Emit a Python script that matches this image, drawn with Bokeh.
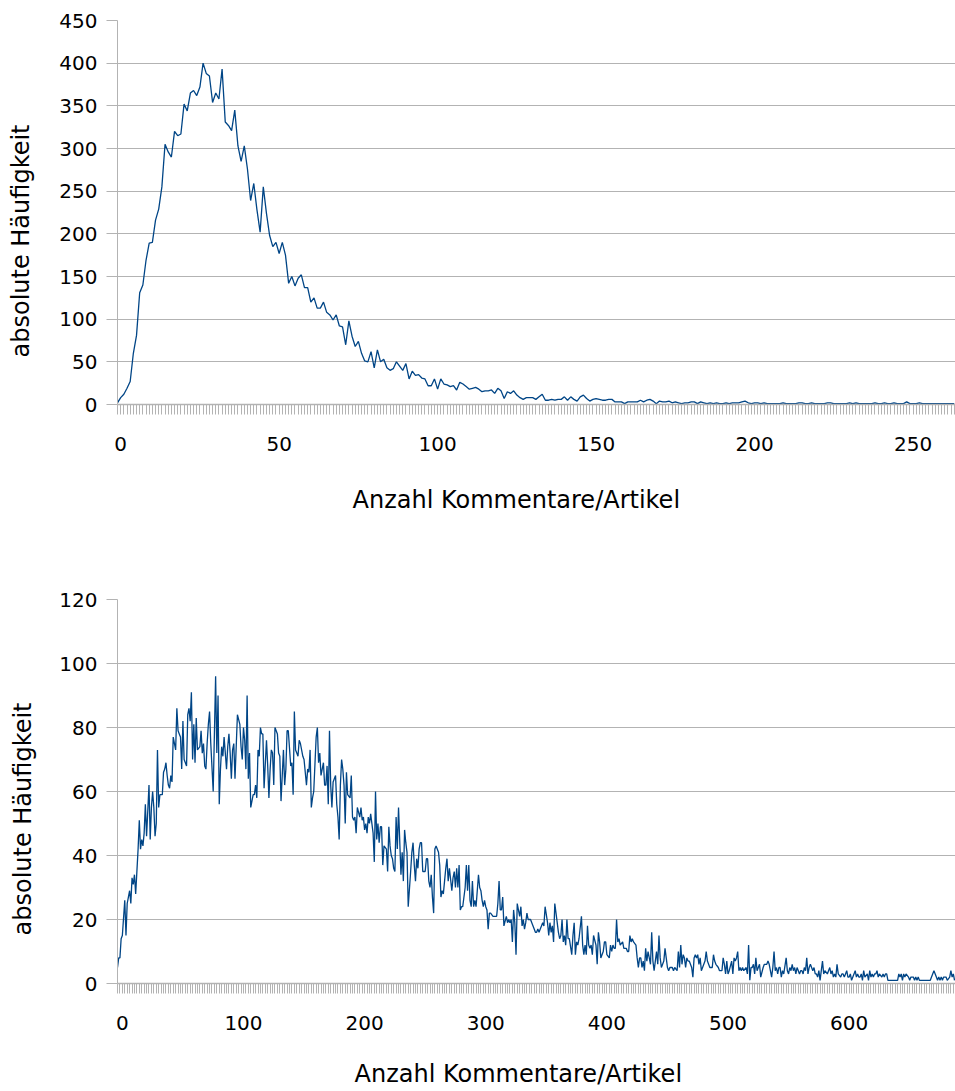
from bokeh.plotting import figure
from bokeh.models import FixedTicker, Title
from bokeh.layouts import column
from bokeh.embed import file_html
from bokeh.resources import INLINE

# ---------------- data ----------------
# top chart: frequency per number of comments (0 .. 264)
top_freq = [
    2, 8, 12, 19, 27, 60, 81, 131, 140, 169, 189, 190, 216, 229, 255, 305, 296, 290, 320, 315,
    317, 352, 344, 365, 368, 362, 372, 400, 388, 385, 354, 365, 358, 393, 331, 327, 321, 345, 303, 285,
    303, 276, 239, 259, 228, 202, 255, 224, 198, 185, 190, 177, 190, 175, 142, 150, 139, 148, 152, 137,
    137, 120, 125, 113, 113, 120, 108, 105, 99, 105, 92, 91, 70, 98, 80, 68, 74, 60, 51, 50,
    62, 43, 64, 50, 53, 43, 40, 42, 50, 45, 40, 48, 30, 39, 34, 35, 31, 30, 22, 22,
    30, 18, 30, 24, 23, 21, 22, 17, 26, 24, 21, 18, 19, 20, 18, 15, 16, 16, 17, 13,
    19, 16, 7, 15, 13, 16, 11, 8, 6, 8, 8, 8, 6, 9, 12, 5, 5, 6, 5, 6,
    6, 9, 5, 9, 6, 4, 9, 11, 7, 4, 6, 7, 6, 5, 5, 6, 6, 3, 3, 3,
    1, 3, 3, 3, 3, 5, 3, 5, 6, 4, 1, 4, 3, 3, 4, 2, 3, 2, 1, 2,
    2, 3, 3, 1, 3, 2, 1, 2, 1, 2, 1, 1, 2, 1, 2, 2, 2, 3, 4, 2,
    1, 2, 2, 1, 2, 1, 1, 1, 1, 1, 2, 1, 1, 1, 1, 2, 2, 1, 1, 2,
    1, 1, 1, 1, 2, 2, 1, 1, 1, 1, 1, 2, 1, 2, 1, 1, 1, 1, 1, 2,
    1, 1, 2, 1, 1, 2, 1, 1, 1, 3, 1, 1, 1, 2, 1, 1, 1, 1, 1, 1,
    1, 1, 1, 1, 1,
]
top_counts = list(range(len(top_freq)))

# bottom chart: number of comments and frequency
bottom_counts = [
    0, 1, 2, 3, 4, 6, 7, 8, 9, 10, 11, 12, 13, 14, 15, 17, 18, 19, 20, 21,
    22, 23, 24, 26, 27, 28, 29, 30, 31, 32, 33, 34, 35, 37, 38, 39, 40, 41, 42, 43,
    44, 45, 46, 48, 49, 50, 51, 52, 53, 54, 55, 57, 58, 59, 60, 61, 62, 63, 64, 65,
    66, 68, 69, 70, 71, 72, 73, 74, 75, 76, 77, 79, 80, 81, 82, 83, 84, 85, 86, 87,
    88, 90, 91, 92, 93, 94, 95, 96, 97, 98, 99, 101, 102, 103, 104, 105, 106, 107, 108, 109,
    110, 112, 113, 114, 115, 116, 117, 118, 119, 120, 121, 123, 124, 125, 126, 127, 128, 129, 130, 132,
    133, 134, 135, 136, 137, 138, 139, 140, 141, 143, 144, 145, 146, 147, 148, 149, 150, 151, 153, 154,
    155, 156, 157, 158, 159, 160, 161, 162, 164, 165, 166, 167, 168,
    170, 171, 172, 173, 174, 175, 176, 177, 178, 180, 181, 182, 183, 184, 185, 186, 187, 188, 189, 190,
    192, 193, 194, 195, 196, 197, 198, 200, 201, 202, 203, 204, 205, 206, 207, 208, 209, 211, 212, 213,
    214, 215, 216, 217, 218, 219, 220, 222, 223, 224, 225, 226, 227, 228, 229, 230, 231, 232, 234, 235,
    236, 237, 238, 239, 240, 242, 243, 244, 245, 246, 247, 248, 249, 250, 251, 252, 254, 255, 256, 257,
    258, 259, 260, 261, 262, 263, 265, 266, 267, 268, 269, 270, 271, 272, 273, 274, 276, 277, 278, 279,
    280, 281, 282, 283, 284, 285, 287, 288, 289, 290, 291, 292, 293, 294, 295, 296, 298, 299, 300, 301,
    302, 303, 304, 305, 306, 307, 308, 310, 311, 312, 313, 314, 315, 316, 317, 318, 319, 321, 322, 323,
    324, 325, 326, 327, 328, 329, 330, 332, 333, 334, 335, 336, 337, 338, 339, 340, 341, 342, 344, 345,
    346, 347, 348, 349, 350, 351, 352, 353, 355, 356, 357, 358,
    359, 360, 361, 363, 364, 365, 366, 367, 368, 369, 370, 371, 372, 373, 375, 376, 377, 378, 379, 380,
    381, 383, 384, 385, 386, 387, 388, 389, 390, 391, 392, 393, 395, 396, 397, 398, 399, 400, 401, 402,
    403, 404, 406, 407, 408, 409, 410, 411, 412, 413, 414, 415, 417, 418, 419, 420, 421, 422, 423, 424,
    425, 426, 428, 429, 430, 431, 432, 433, 434, 435, 436, 437, 438, 440, 441, 442, 443, 444, 445, 446,
    447, 448, 449, 451, 452, 453, 454, 455, 456, 457, 458, 459, 460, 462, 463, 464, 465, 466, 467, 468,
    469, 470, 471, 472, 474, 475, 476, 477, 478, 479, 480, 481, 482, 483, 485, 486, 487, 488, 489, 490,
    491, 492, 493, 494, 496, 497, 498, 499, 500, 501, 502, 503, 504, 505, 507, 508, 509, 510, 511, 512,
    513, 514, 515, 516, 517, 519, 520, 521, 522, 523, 524, 525, 526, 527, 528, 530, 531,
    533, 534, 535, 536, 537, 538, 540, 541, 542, 543, 544, 545, 546, 547, 548, 549, 550, 552, 553, 554,
    555, 556, 557, 558, 559, 560, 561, 563, 564, 565, 566, 567, 568, 569, 570, 571, 572, 574, 575, 576,
    577, 578, 579, 580, 581, 582, 583, 584, 586, 587, 588, 589, 590, 591, 592, 593, 594, 595, 597, 598,
    599, 600, 601, 602, 603, 604, 605, 606, 608, 609, 610, 611, 612, 613, 614, 615, 616, 617, 619, 620,
    621, 622, 623, 624, 625, 626, 627, 628, 629, 631, 632, 633, 634, 635, 636, 637, 638, 639, 640, 641,
    642, 643, 644, 645, 646, 647, 648, 649, 650, 651, 653, 654, 655, 656, 657, 658, 659, 660, 661, 662,
    663, 664, 665, 666, 667, 668, 669, 670, 671, 672, 674, 676, 677, 678, 679, 680, 681, 682, 683, 684,
    685, 687, 688, 689, 690, 691,
]
bottom_freq = [
    5, 8, 8, 14, 15, 26, 15, 25, 27, 29, 25, 33, 31, 34, 28, 42, 51, 42, 45, 43,
    47, 56, 46, 62, 45, 55, 60, 55, 46, 50, 73, 55, 59, 59, 66, 67, 69, 65, 62, 61,
    65, 63, 77, 73, 86, 79, 78, 77, 67, 82, 70, 68, 84, 86, 82, 91, 70, 81, 69, 83,
    73, 74, 79, 72, 75, 68, 67, 75, 81, 85, 75, 60, 78, 96, 72, 90, 56, 67, 74, 71,
    77, 67, 74, 78, 72, 64, 73, 75, 64, 74, 84, 81, 74, 70, 80, 76, 67, 90, 64, 72,
    55, 59, 59, 62, 58, 73, 71, 80, 78, 78, 61, 76, 68, 58, 67, 73, 72, 62, 80, 78,
    72, 71, 57, 65, 73, 62, 67, 79, 79, 68, 69, 59, 85, 73, 72, 71, 76, 75, 71, 70,
    66, 62, 67, 66, 73, 55, 58, 60, 77, 80, 69, 72, 65,
    69, 62, 62, 68, 56, 79, 62, 55, 63, 65, 56, 52, 45, 62, 70, 67, 62, 50, 66, 59,
    58, 65, 52, 51, 52, 47, 55, 52, 55, 51, 52, 48, 50, 47, 52, 50, 53, 47, 38, 60,
    45, 50, 44, 49, 49, 37, 43, 42, 35, 49, 43, 40, 39, 36, 35, 52, 42, 55, 34, 41,
    32, 48, 44, 41, 24, 35, 41, 44, 37, 32, 39, 36, 42, 44, 44, 35, 35, 39, 39, 32,
    30, 34, 27, 22, 42, 43, 41, 37, 27, 29, 28, 32, 36, 39, 32, 36, 29, 33, 35, 30,
    36, 30, 37, 23, 24, 24, 30, 37, 29, 37, 26, 24, 32, 24, 26, 24, 34, 30, 29, 26,
    24, 26, 24, 23, 17, 22, 22, 21, 21, 21, 21, 25, 32, 23, 23, 27, 18, 21, 19, 20,
    19, 20, 13, 23, 19, 9, 25, 21, 24, 18, 20, 17, 19, 22, 20, 20, 20, 19, 17, 16,
    16, 17, 16, 17, 18, 19, 18, 24, 19, 15, 19, 16,
    18, 13, 25, 19, 16, 14, 15, 20, 13, 15, 12, 20, 14, 14, 9, 15, 19, 9, 13, 12,
    14, 21, 12, 9, 12, 9, 18, 12, 11, 12, 9, 15, 12, 6, 16, 13, 8, 9, 10, 13,
    13, 9, 8, 12, 10, 12, 11, 11, 20, 13, 14, 12, 13, 11, 11, 11, 10, 10, 15, 13,
    14, 13, 12, 8, 5, 8, 8, 5, 7, 4, 11, 7, 10, 6, 16, 7, 4, 7, 10, 6,
    15, 8, 5, 7, 11, 8, 5, 4, 5, 5, 5, 4, 5, 4, 10, 5, 12, 6, 9, 8,
    5, 8, 7, 7, 5, 2, 8, 9, 8, 9, 6, 8, 4, 5, 7, 10, 7, 6, 5, 5,
    5, 9, 7, 6, 5, 4, 4, 4, 8, 6, 3, 7, 3, 4, 7, 3, 8, 7, 8, 10,
    4, 5, 4, 5, 4, 5, 3, 12, 1, 5, 5, 6, 3, 8, 4, 6, 2,
    5, 6, 6, 6, 7, 6, 2, 5, 10, 4, 5, 3, 5, 5, 2, 4, 3, 8, 4, 3,
    5, 4, 6, 4, 5, 3, 5, 3, 4, 4, 3, 5, 4, 8, 3, 5, 6, 4, 5, 3,
    3, 2, 4, 1, 4, 7, 3, 4, 3, 4, 5, 3, 4, 2, 3, 2, 6, 3, 2, 3,
    3, 2, 3, 4, 2, 2, 3, 1, 3, 4, 2, 3, 2, 2, 3, 1, 4, 2, 3, 1,
    4, 2, 3, 2, 3, 3, 4, 2, 3, 2, 3, 2, 3, 3, 1, 1, 1, 1, 1, 1,
    1, 1, 1, 3, 2, 3, 1, 3, 2, 3, 2, 1, 2, 2, 2, 1, 2, 1, 2, 1,
    1, 1, 1, 1, 1, 1, 1, 1, 1, 2, 4, 2, 1, 2, 1, 2, 1, 2, 2, 2,
    1, 2, 4, 2, 3, 1,
]

top_yticks = [0, 50, 100, 150, 200, 250, 300, 350, 400, 450]
top_xlabels = [0, 50, 100, 150, 200, 250]
bottom_yticks = [0, 20, 40, 60, 80, 100, 120]
bottom_xlabels = [0, 100, 200, 300, 400, 500, 600]

x_title = "Anzahl Kommentare/Artikel"
y_title = "absolute Häufigkeit"

# ---------------- style ----------------
FONT = "DejaVu Sans"
LINE = "#004586"
GRID = "#b3b3b3"
TICK_FS = "20px"
TITLE_FS = "24px"


def spacer(size):
    # an almost empty title panel that only adds distance between axis and title
    return Title(text=" ", text_font_size="1px", standoff=size, text_color="white")


def make(width, height, xmax, ymax, borders, yticks, xlabels, label_shift,
         minor_step, xt_offset, xt_gap, yt_offset, yt_gap):
    left, top, bottom = borders
    p = figure(width=width, height=height, x_range=(0, xmax), y_range=(0, ymax),
               output_backend="svg", toolbar_location=None,
               min_border_left=left, min_border_right=0,
               min_border_top=top, min_border_bottom=bottom)
    p.outline_line_color = None
    p.background_fill_color = "white"
    p.border_fill_color = "white"
    p.xgrid.grid_line_color = None
    p.ygrid.grid_line_color = GRID
    p.ygrid.grid_line_width = 1

    # y axis
    p.yaxis.ticker = FixedTicker(ticks=yticks)
    p.yaxis.axis_line_color = GRID
    p.yaxis.major_tick_line_color = GRID
    p.yaxis.major_tick_out = 11
    p.yaxis.major_tick_in = 0
    p.yaxis.minor_tick_line_color = None
    p.yaxis.major_label_standoff = 9
    p.yaxis.major_label_text_font = FONT
    p.yaxis.major_label_text_font_size = TICK_FS
    p.yaxis.major_label_text_color = "black"

    # x axis: category tick marks + labels
    positions = [v + label_shift for v in xlabels]
    p.xaxis.ticker = FixedTicker(ticks=positions,
                                 minor_ticks=list(range(0, int(xmax) + 2, minor_step)))
    p.xaxis.major_label_overrides = {pos: str(v) for pos, v in zip(positions, xlabels)}
    p.xaxis.axis_line_color = GRID
    p.xaxis.axis_line_width = 1.5
    p.xaxis.major_tick_line_color = None
    p.xaxis.major_tick_out = 10
    p.xaxis.major_tick_in = 0
    p.xaxis.minor_tick_line_color = GRID
    p.xaxis.minor_tick_out = 10
    p.xaxis.minor_tick_in = 0
    p.xaxis.major_label_standoff = 22
    p.xaxis.major_label_text_font = FONT
    p.xaxis.major_label_text_font_size = TICK_FS
    p.xaxis.major_label_text_color = "black"

    # axis titles, placed like the original (slightly off-centre)
    p.add_layout(spacer(xt_gap), "below")
    p.add_layout(Title(text=x_title, align="left", offset=xt_offset, standoff=0,
                       text_font=FONT, text_font_size=TITLE_FS,
                       text_font_style="normal", text_color="black"), "below")
    p.add_layout(spacer(yt_gap), "left")
    p.add_layout(Title(text=y_title, align="left", offset=yt_offset, standoff=0,
                       text_font=FONT, text_font_size=TITLE_FS,
                       text_font_style="normal", text_color="black"), "left")
    return p


top = make(955, 548, 264.4, 450, (117, 20, 144), top_yticks, top_xlabels, 1, 1,
           235, 27, 47, 19)
top.line(top_counts, top_freq, line_color=LINE, line_width=1.3)

bottom = make(955, 543, 691.8, 120, (115, 51, 108), bottom_yticks, bottom_xlabels, 4, 2,
              237, 22, 48, 17)
bottom.line(bottom_counts, bottom_freq, line_color=LINE, line_width=1.3)

layout = column(top, bottom)
open("out.html", "w").write(file_html(layout, INLINE))
